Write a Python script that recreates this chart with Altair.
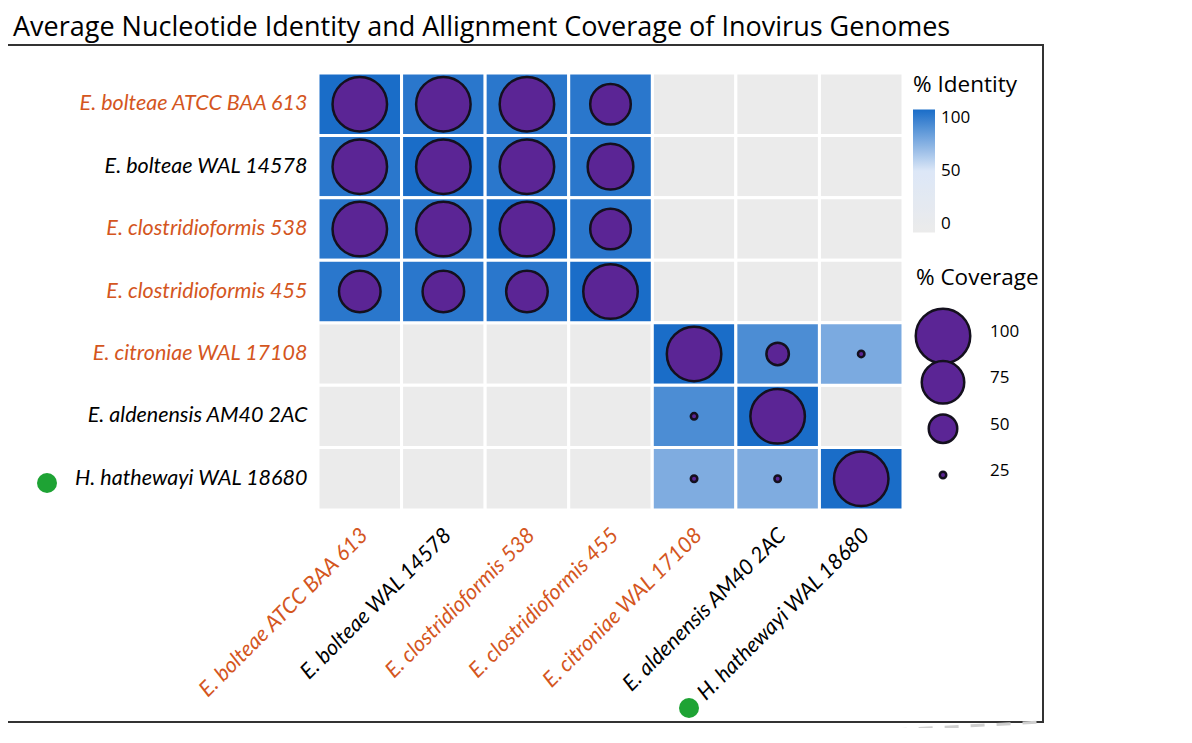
import altair as alt
import pandas as pd

# ---------------- data ----------------
names = [
    "E. bolteae ATCC BAA 613",
    "E. bolteae WAL 14578",
    "E. clostridioformis 538",
    "E. clostridioformis 455",
    "E. citroniae WAL 17108",
    "E. aldenensis AM40 2AC",
    "H. hathewayi WAL 18680",
]
orange_names = [
    "E. bolteae ATCC BAA 613",
    "E. clostridioformis 538",
    "E. clostridioformis 455",
    "E. citroniae WAL 17108",
]
N = None
# % identity (row = y genome, column = x genome); None = no alignment
identity = [
    [100, 96, 96, 96, N, N, N],
    [96, 100, 96, 96, N, N, N],
    [96, 96, 100, 96, N, N, N],
    [96, 96, 96, 100, N, N, N],
    [N, N, N, N, 100, 87, 75],
    [N, N, N, N, 87, 100, N],
    [N, N, N, N, 74, 74, 100],
]
# % alignment coverage
coverage = [
    [100, 100, 100, 71, N, N, N],
    [100, 100, 100, 81, N, N, N],
    [100, 100, 100, 71, N, N, N],
    [73, 73, 73, 100, N, N, N],
    [N, N, N, N, 100, 40, 25],
    [N, N, N, N, 25, 100, N],
    [N, N, N, N, 25, 25, 100],
]
identity_ticks = [0, 50, 100]
coverage_ticks = [100, 75, 50, 25]
coverage_labels = ["100", "75", "50", "25"]
title_text = "Average Nucleotide Identity and Allignment Coverage of Inovirus Genomes"

rows = []
for i, rname in enumerate(names):
    for j, cname in enumerate(names):
        rows.append({"row": rname, "col": cname,
                     "identity": identity[i][j], "coverage": coverage[i][j]})
df = pd.DataFrame(rows)
leg_df = pd.DataFrame({"coverage": coverage_ticks, "label": coverage_labels})
one = pd.DataFrame({"k": [0]})

ORANGE = "#d4561e"
PURPLE = "#5b2595"
OUTLINE = "#14101e"
GREEN = "#1ea334"
label_expr = ("indexof(" + str(orange_names) + ", datum.value) >= 0 ? '"
              + ORANGE + "' : '#000000'")

x_enc = alt.X(
    "col:N", sort=names,
    scale=alt.Scale(domain=names, paddingInner=0, paddingOuter=0),
    axis=alt.Axis(title=None, domain=False, ticks=False, labelAngle=-45,
                  labelAlign="right", labelBaseline="middle", labelPadding=22,
                  labelOffset=5, labelFont="Lato", labelFontStyle="italic",
                  labelFontSize=21.5, labelLimit=400,
                  labelColor={"expr": label_expr}),
)
y_enc = alt.Y(
    "row:N", sort=names,
    scale=alt.Scale(domain=names, paddingInner=0, paddingOuter=0),
    axis=alt.Axis(title=None, domain=False, ticks=False, labelPadding=11,
                  labelFont="Lato", labelFontStyle="italic", labelFontSize=21.5,
                  labelLimit=400, labelColor={"expr": label_expr}),
)
size_scale = alt.Scale(domain=[25, 50, 75, 100], range=[42, 812, 1806, 2970])

bg = alt.Chart(df).mark_rect(color="#ebebeb", stroke="white", strokeWidth=3).encode(
    x=x_enc, y=y_enc)

cells = alt.Chart(df).transform_filter("isValid(datum.identity)").mark_rect(
    stroke="white", strokeWidth=3).encode(
    x=x_enc, y=y_enc,
    color=alt.Color(
        "identity:Q",
        scale=alt.Scale(domain=[0, 50, 100], range=["#ebebeb", "#dce7f7", "#1a6dc8"],
                        interpolate="rgb"),
        legend=alt.Legend(title="% Identity", orient="none", legendX=595, legendY=1,
                          direction="vertical", gradientLength=123,
                          gradientThickness=22, values=identity_ticks,
                          titleFont="Open Sans", titleFontSize=22.5,
                          titleFontWeight="normal", titleColor="black",
                          labelFont="Open Sans", labelFontSize=17,
                          labelColor="black", labelOffset=6, titlePadding=13,
                          gradientStrokeWidth=0),
    ),
)

circles = alt.Chart(df).transform_filter("isValid(datum.coverage)").mark_circle(
    fill=PURPLE, stroke=OUTLINE, strokeWidth=2.5, opacity=1).encode(
    x=x_enc, y=y_enc,
    size=alt.Size("coverage:Q", scale=size_scale, legend=None),
)

# ----- frame and annotations -----
border = alt.Chart(one).mark_rect(fillOpacity=0, stroke="#333333", strokeWidth=2).encode(
    x=alt.value(-340), x2=alt.value(725), y=alt.value(-28), y2=alt.value(649))
shadow = alt.Chart(one).mark_rule(stroke="#cfcfcf", strokeWidth=3, strokeDash=[14, 12]).encode(
    x=alt.value(367), y=alt.value(668), x2=alt.value(725), y2=alt.value(649))
dot_y = alt.Chart(one).mark_circle(color=GREEN, opacity=1, size=400).encode(
    x=alt.value(-271), y=alt.value(410))
dot_x = alt.Chart(one).mark_circle(color=GREEN, opacity=1, size=400).encode(
    x=alt.value(371), y=alt.value(635))

main = alt.layer(bg, cells, circles, border, shadow, dot_y, dot_x)

# ----- "% Coverage" size legend, drawn through the same size scale -----
leg_y = alt.Y("label:N", sort=coverage_labels,
              scale=alt.Scale(type="point", domain=coverage_labels,
                              range=[263, 402], padding=0),
              axis=None)
leg_sym = alt.Chart(leg_df).mark_circle(
    fill=PURPLE, stroke=OUTLINE, strokeWidth=2.5, opacity=1).encode(
    x=alt.value(625), y=leg_y,
    size=alt.Size("coverage:Q", scale=size_scale, legend=None))
leg_lab = alt.Chart(leg_df).mark_text(
    align="left", baseline="middle", dy=-4, font="Open Sans", fontSize=17,
    color="black").encode(x=alt.value(672), y=leg_y, text="label:N")
leg_title = alt.Chart(one).mark_text(
    align="left", baseline="middle", font="Open Sans", fontSize=22.5,
    color="black").encode(x=alt.value(598), y=alt.value(205),
                          text=alt.value("% Coverage"))
size_legend = alt.layer(leg_sym, leg_lab, leg_title)

chart = alt.layer(main, size_legend).resolve_scale(y="independent").properties(
    width=585, height=437,
    autosize=alt.AutoSizeParams(type="none"),
    padding={"left": 310, "top": 65, "right": 205, "bottom": 218},
    title=alt.TitleParams(title_text, anchor="start", frame="group", dx=-305,
                          dy=-2, font="Open Sans", fontSize=27,
                          fontWeight="normal", color="black", offset=0),
).configure_view(stroke=None).configure_scale(bandPaddingInner=0)

chart.save("out.html", embed_options={"renderer": "svg", "actions": False})
